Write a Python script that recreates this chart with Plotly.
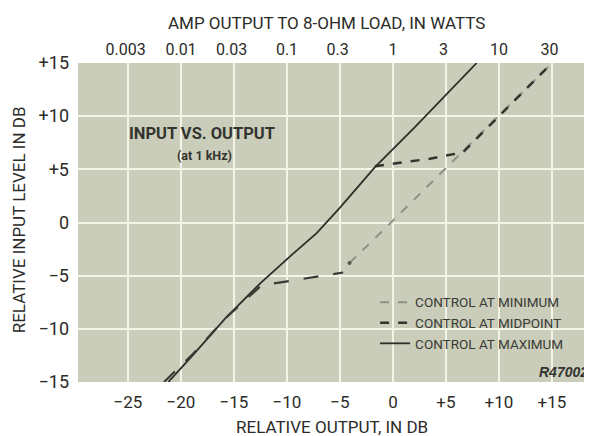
import plotly.graph_objects as go

FONT = "Roboto, 'Liberation Sans', sans-serif"
INK = "#2b2b28"
PLOT_BG = "#c9cdb9"
GRID = "#f3f3e8"

# x: relative output (dB), y: relative input level (dB)
max_out = [-21.2, -18.9, -15.8, -12.5, -9.5, -7.2, -5.0, -1.7, 2.0, 7.9]
max_in = [-15.0, -12.5, -9.0, -5.7, -3.0, -1.0, 1.4, 5.2, 8.9, 15.0]
# limiting branch, drawn long-dashed
lim_out = [-21.6, -18.9, -15.8, -12.4, -8.5, -4.7]
lim_in = [-15.0, -12.4, -9.0, -5.9, -5.3, -4.7]
mid_out = [-1.7, 3.5, 6.6, 14.8]
mid_in = [5.3, 6.0, 6.6, 14.8]
min_out = [-4.1, -1.2, 6.5, 14.8]
min_in = [-3.8, -1.0, 6.6, 14.8]

db_ticks = [-25, -20, -15, -10, -5, 0, 5, 10, 15]
db_labels = ["\u221225", "\u221220", "\u221215", "\u221210", "\u22125", "0", "+5", "+10", "+15"]
in_ticks = [-15, -10, -5, 0, 5, 10, 15]
in_labels = ["\u221215", "\u221210", "\u22125", "0", "+5", "+10", "+15"]
watts = [0.003, 0.01, 0.03, 0.1, 0.3, 1, 3, 10, 30]
watt_labels = ["0.003", "0.01", "0.03", "0.1", "0.3", "1", "3", "10", "30"]

X_RANGE = [-29.72, 18.78]

fig = go.Figure()

fig.add_trace(go.Scatter(
    x=min_out, y=min_in, mode="lines", name="CONTROL AT MINIMUM",
    line=dict(color="#8e9086", width=2, dash="dash"),
))
fig.add_trace(go.Scatter(
    x=min_out[:1], y=min_in[:1], mode="markers", showlegend=False,
    marker=dict(color="#55574f", size=4),
))
fig.add_trace(go.Scatter(
    x=mid_out, y=mid_in, mode="lines", name="CONTROL AT MIDPOINT",
    line=dict(color="#33332e", width=2.5, dash="dash"),
))
fig.add_trace(go.Scatter(
    x=max_out, y=max_in, mode="lines", name="CONTROL AT MAXIMUM",
    line=dict(color="#2e2e2a", width=1.8), legendgroup="max",
))
fig.add_trace(go.Scatter(
    x=lim_out, y=lim_in, mode="lines", showlegend=False, legendgroup="max",
    line=dict(color="#3a3a35", width=2.2, dash="longdash"),
))
# carrier for the top watts axis
fig.add_trace(go.Scatter(
    x=watts, y=[None] * len(watts), xaxis="x2", showlegend=False, hoverinfo="skip",
))

# the page body adds an 8px offset, so margins are 8px smaller on top/left
fig.update_layout(
    width=592, height=436,
    margin=dict(l=70, r=8, t=55, b=62, autoexpand=False),
    paper_bgcolor="white",
    plot_bgcolor=PLOT_BG,
    font=dict(family=FONT, color=INK, size=16),
    xaxis=dict(
        range=X_RANGE, tickvals=db_ticks, ticktext=db_labels, automargin=False,
        showgrid=True, gridcolor=GRID, gridwidth=2, zeroline=False,
        ticks="", ticklabelstandoff=8, tickfont=dict(size=17),
    ),
    xaxis2=dict(
        type="log", overlaying="x", side="top", automargin=False,
        range=[X_RANGE[0] / 10, X_RANGE[1] / 10],
        tickvals=watts, ticktext=watt_labels,
        showgrid=False, zeroline=False, ticks="", ticklabelstandoff=4,
        tickfont=dict(size=16),
    ),
    yaxis=dict(
        range=[-15, 15], tickvals=in_ticks, ticktext=in_labels, automargin=False,
        showgrid=True, gridcolor=GRID, gridwidth=2, zeroline=False,
        ticks="", ticklabelstandoff=8, tickfont=dict(size=18),
    ),
    legend=dict(
        x=0.578, y=0.298, xanchor="left", yanchor="top",
        bgcolor="rgba(0,0,0,0)", font=dict(size=13.5, color="#3a3a36"),
        tracegroupgap=0, itemwidth=30,
    ),
    showlegend=True,
)

annots = [
    dict(text="AMP OUTPUT TO 8-OHM LOAD, IN WATTS", x=0.484, y=1.124, size=17),
    dict(text="RELATIVE OUTPUT, IN DB", x=0.494, y=-0.141, size=17),
    dict(text="RELATIVE INPUT LEVEL IN DB", x=-0.1148, y=0.51, size=17, angle=-90),
]
for a in annots:
    fig.add_annotation(
        text=a["text"], x=a["x"], y=a["y"], xref="paper", yref="paper",
        showarrow=False, xanchor="center", yanchor="middle",
        textangle=a.get("angle", 0), font=dict(size=a["size"], color=INK),
    )

fig.add_annotation(
    text="<b>INPUT VS. OUTPUT</b>", x=-18.0, y=8.4, showarrow=False,
    font=dict(size=16.5, color="#33332f"),
)
fig.add_annotation(
    text="<b>(at 1 kHz)</b>", x=-17.8, y=6.3, showarrow=False,
    font=dict(size=12.5, color="#33332f"),
)
fig.add_annotation(
    text="<b><i>R47002</i></b>", x=0.893, y=0.031, xref="paper", yref="paper",
    xanchor="left", yanchor="middle", showarrow=False,
    font=dict(size=14, color="#333330", family="Liberation Sans, Arial, sans-serif"),
)

fig.write_html("out.html")
